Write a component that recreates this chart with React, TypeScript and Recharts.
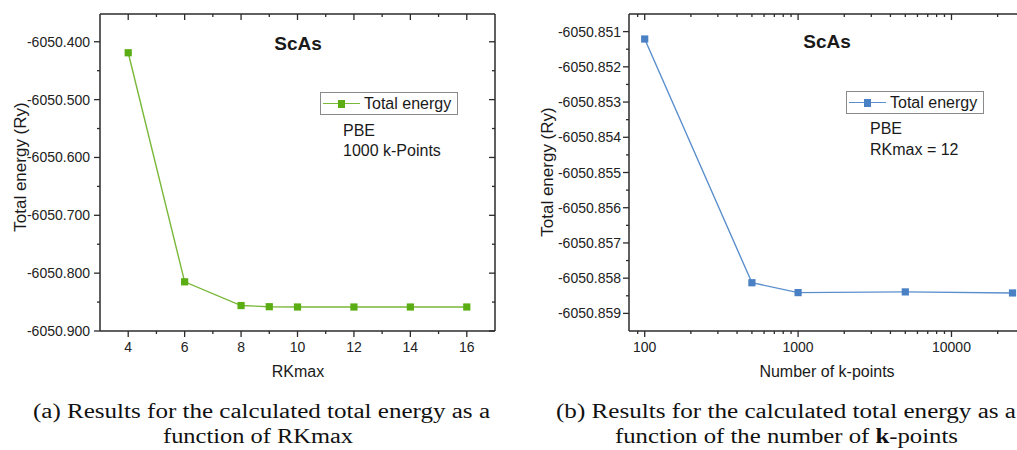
import { LineChart, Line, XAxis, YAxis } from 'recharts';

// (a) total energy vs RKmax
const rkmax = [4, 6, 8, 9, 10, 12, 14, 16];
const energyRk = [-6050.419, -6050.815, -6050.856, -6050.858, -6050.8585, -6050.8585, -6050.8585, -6050.8585];

// (b) total energy vs number of k-points
const kpoints = [100, 500, 1000, 5000, 25000];
const energyK = [-6050.85121, -6050.85813, -6050.85841, -6050.85839, -6050.85842];

// tick labels
const rkMajor = [4, 6, 8, 10, 12, 14, 16];
const rkMinor = [5, 7, 9, 11, 13, 15];
const eRkMajor = [-6050.9, -6050.8, -6050.7, -6050.6, -6050.5, -6050.4];
const eRkMinor = [-6050.85, -6050.75, -6050.65, -6050.55, -6050.45];
const kMajor = [100, 1000, 10000];
const kMinor = [90, 200, 300, 400, 500, 600, 700, 800, 900, 2000, 3000, 4000, 5000, 6000, 7000, 8000, 9000, 20000];
const eKMajor = [-6050.851, -6050.852, -6050.853, -6050.854, -6050.855, -6050.856, -6050.857, -6050.858, -6050.859];
const eKMinor = [-6050.8515, -6050.8525, -6050.8535, -6050.8545, -6050.8555, -6050.8565, -6050.8575, -6050.8585];

const rkData = rkmax.map((x, i) => ({ x, e: energyRk[i] }));
const kData = kpoints.map((x, i) => ({ x, e: energyK[i] }));

const AXIS = '#2b2b2b';
const SANS = '"Liberation Sans", Arial, sans-serif';
const SERIF = '"Liberation Serif", "Times New Roman", serif';

const isMajor = (v: number, majors: number[]) => majors.some((m) => Math.abs(m - v) < 1e-7);

type Side = 'bottom' | 'top' | 'left' | 'right';

function makeTick(side: Side, majors: number[], labelGap = 10) {
  return (props: any) => {
    const { x, y, payload, index } = props;
    const major = isMajor(payload.value, majors);
    const len = major ? 6 : 3;
    let line;
    let label = null;
    if (side === 'bottom') {
      line = <line x1={x} x2={x} y1={y} y2={y + len} />;
      if (major)
        label = (
          <text x={x} y={y + 21} textAnchor="middle" fill="#222" stroke="none" fontSize={14} fontFamily={SANS}>
            {payload.value}
          </text>
        );
    } else if (side === 'top') {
      line = <line x1={x} x2={x} y1={y} y2={y + len} />;
    } else if (side === 'left') {
      line = <line x1={x} x2={x - len} y1={y} y2={y} />;
      if (major)
        label = (
          <text x={x - labelGap} y={y + 5} textAnchor="end" fill="#222" stroke="none" fontSize={14} fontFamily={SANS}>
            {Number(payload.value).toFixed(3)}
          </text>
        );
    } else {
      line = <line x1={x} x2={x - len} y1={y} y2={y} />;
    }
    return (
      <g key={`${side}-${index}`} stroke={AXIS} strokeWidth={1.3}>
        {line}
        {label}
      </g>
    );
  };
}

function squareDot(fill: string) {
  return (props: any) => {
    const { cx, cy, index } = props;
    return <rect key={`d-${index}`} x={cx - 3.6} y={cy - 3.6} width={7.2} height={7.2} fill={fill} />;
  };
}

const abs = (style: React.CSSProperties): React.CSSProperties => ({ position: 'absolute', ...style });

function LegendBox({ left, top, line, marker }: { left: number; top: number; line: string; marker: string }) {
  return (
    <div
      style={abs({
        left,
        top,
        width: 136,
        height: 21,
        border: '1px solid #8a8a8a',
        background: '#fff',
        fontFamily: SANS,
        fontSize: 16,
        color: '#1a1a1a',
      })}
    >
      <div style={abs({ left: 2, top: 10, width: 37, height: 1.3, background: line })} />
      <div style={abs({ left: 16.5, top: 7, width: 7.5, height: 7.5, background: marker })} />
      <div style={abs({ left: 43, top: 1, whiteSpace: 'nowrap', lineHeight: '19px' })}>Total energy</div>
    </div>
  );
}

function Text({ x, y, children, size = 16, bold = false, center = false }: any) {
  return (
    <div
      style={abs({
        left: x,
        top: y,
        transform: center ? 'translate(-50%, -50%)' : 'translate(0, -50%)',
        fontFamily: SANS,
        fontSize: size,
        fontWeight: bold ? 'bold' : 'normal',
        color: '#1a1a1a',
        whiteSpace: 'nowrap',
        lineHeight: 1,
      })}
    >
      {children}
    </div>
  );
}

function YTitle({ x, y }: { x: number; y: number }) {
  return (
    <div
      style={abs({
        left: x,
        top: y,
        transform: 'translate(-50%, -50%) rotate(-90deg)',
        fontFamily: SANS,
        fontSize: 17,
        color: '#1a1a1a',
        whiteSpace: 'nowrap',
        lineHeight: 1,
      })}
    >
      Total energy (Ry)
    </div>
  );
}

const axisProps = {
  interval: 0 as const,
  tickSize: 0,
  tickMargin: 0,
  tickLine: false,
  allowDataOverflow: true,
  axisLine: { stroke: AXIS, strokeWidth: 1.5 },
};

export default function App() {
  return (
    <div style={abs({ left: 0, top: 0, width: 1017, height: 450, overflow: 'hidden', background: '#fff' })}>
      {/* (a) */}
      <div style={abs({ left: 0, top: 0 })}>
        <LineChart width={510} height={390} data={rkData} margin={{ top: 4, right: 5, bottom: 19, left: 30 }}>
          <XAxis
            {...axisProps}
            xAxisId="b"
            dataKey="x"
            type="number"
            domain={[3, 17]}
            ticks={[...rkMajor, ...rkMinor]}
            height={40}
            tick={makeTick('bottom', rkMajor)}
          />
          <XAxis
            {...axisProps}
            xAxisId="t"
            orientation="top"
            dataKey="x"
            type="number"
            domain={[3, 17]}
            ticks={[...rkMajor, ...rkMinor]}
            height={10}
            tick={makeTick('top', rkMajor)}
          />
          <YAxis
            {...axisProps}
            yAxisId="l"
            type="number"
            domain={[-6050.9, -6050.352]}
            ticks={[...eRkMajor, ...eRkMinor]}
            width={70}
            tick={makeTick('left', eRkMajor, 10)}
          />
          <YAxis
            {...axisProps}
            yAxisId="r"
            orientation="right"
            type="number"
            domain={[-6050.9, -6050.352]}
            ticks={[...eRkMajor, ...eRkMinor]}
            width={10}
            tick={makeTick('right', eRkMajor)}
          />
          <Line
            xAxisId="b"
            yAxisId="l"
            type="linear"
            dataKey="e"
            stroke="#7ab83a"
            strokeWidth={1.4}
            dot={squareDot('#5aae14')}
            activeDot={false}
            isAnimationActive={false}
          />
        </LineChart>
      </div>
      <Text x={298} y={43} size={19} bold center>ScAs</Text>
      <LegendBox left={320} top={92} line="#7ab83a" marker="#5aae14" />
      <Text x={343} y={131}>PBE</Text>
      <Text x={343} y={151}>1000 k-Points</Text>
      <YTitle x={20} y={167} />
      <Text x={298} y={372} center>RKmax</Text>

      {/* (b) */}
      <div style={abs({ left: 510, top: 0 })}>
        <LineChart width={520} height={390} data={kData} margin={{ top: 4, right: 6, bottom: 19, left: 29 }}>
          <XAxis
            {...axisProps}
            xAxisId="b"
            dataKey="x"
            type="number"
            scale="log"
            domain={[79, 29700]}
            ticks={[...kMajor, ...kMinor]}
            height={40}
            tick={makeTick('bottom', kMajor)}
          />
          <XAxis
            {...axisProps}
            xAxisId="t"
            orientation="top"
            dataKey="x"
            type="number"
            scale="log"
            domain={[79, 29700]}
            ticks={[...kMajor, ...kMinor]}
            height={10}
            tick={makeTick('top', kMajor)}
          />
          <YAxis
            {...axisProps}
            yAxisId="l"
            type="number"
            domain={[-6050.8595, -6050.8505]}
            ticks={[...eKMajor, ...eKMinor]}
            width={90}
            tick={makeTick('left', eKMajor, 8)}
          />
          <Line
            xAxisId="b"
            yAxisId="l"
            type="linear"
            dataKey="e"
            stroke="#5b8fcc"
            strokeWidth={1.4}
            dot={squareDot('#4a81c4')}
            activeDot={false}
            isAnimationActive={false}
          />
        </LineChart>
      </div>
      <Text x={827} y={41} size={19} bold center>ScAs</Text>
      <LegendBox left={846} top={91} line="#5b8fcc" marker="#4a81c4" />
      <Text x={870} y={129}>PBE</Text>
      <Text x={870} y={150}>RKmax = 12</Text>
      <YTitle x={547} y={172} />
      <Text x={827} y={372} center>Number of k-points</Text>

      {/* captions */}
      <svg width={1017} height={60} style={abs({ left: 0, top: 390 })}>
        <g fontFamily={SERIF} fontSize={20} fill="#111">
          <text x={33} y={28} textLength={457} lengthAdjust="spacingAndGlyphs">
            (a) Results for the calculated total energy as a
          </text>
          <text x={163} y={53} textLength={190} lengthAdjust="spacingAndGlyphs">
            function of RKmax
          </text>
          <text x={556} y={28} textLength={460} lengthAdjust="spacingAndGlyphs">
            (b) Results for the calculated total energy as a
          </text>
          <text x={615} y={53} textLength={343} lengthAdjust="spacingAndGlyphs">
            function of the number of <tspan fontWeight="bold">k</tspan>-points
          </text>
        </g>
      </svg>
    </div>
  );
}
